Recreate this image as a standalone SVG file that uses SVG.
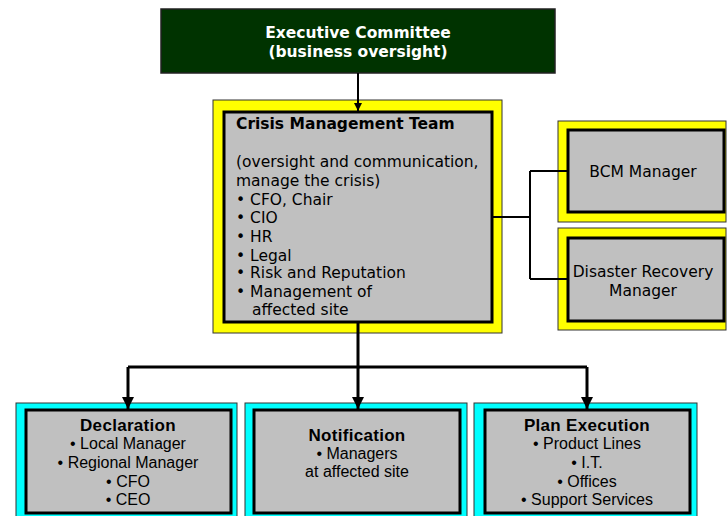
<svg xmlns="http://www.w3.org/2000/svg" width="728" height="516" viewBox="0 0 728 516">
<defs>
<style>
.outerY{fill:#ffff00;stroke:#333;stroke-width:1}
.outerC{fill:#00ffff;stroke:#333;stroke-width:1}
.inner{fill:#c0c0c0;stroke:#000;stroke-width:3}
.v{font-family:"DejaVu Sans",Verdana,sans-serif;font-size:15.5px;fill:#000}
.vb{font-family:"DejaVu Sans",Verdana,sans-serif;font-size:15.5px;font-weight:bold;fill:#000}
.n{font-family:"Liberation Sans",Arial,sans-serif;font-size:16px;fill:#000;text-anchor:middle}
.nb{font-family:"Liberation Sans",Arial,sans-serif;font-size:17px;font-weight:bold;fill:#000;text-anchor:middle;letter-spacing:0.3px}
.c{fill:none;stroke:#000}
</style>
<marker id="ah" viewBox="0 0 10 10" refX="10" refY="5" markerWidth="4" markerHeight="4" markerUnits="strokeWidth" orient="auto">
<path d="M0,0 L10,5 L0,10 z" fill="#000"/>
</marker>
<marker id="ah2" viewBox="0 0 10 10" refX="10" refY="5" markerWidth="5" markerHeight="4" orient="auto" markerUnits="strokeWidth">
<path d="M0,0 L10,5 L0,10 z" fill="#000"/>
</marker>
</defs>

<g id="executive-committee">
<rect x="161" y="9" width="394" height="64" fill="#003300" stroke="#222" stroke-width="1.5"/>
<text x="358" y="38" text-anchor="middle" class="vb" style="fill:#fff">Executive Committee</text>
<text x="358" y="57" text-anchor="middle" class="vb" style="fill:#fff">(business oversight)</text>
</g>

<g id="crisis-management-team">
<rect class="outerY" x="213" y="100" width="289" height="233"/>
<rect class="inner" x="224" y="112" width="268" height="210"/>
<text x="236" y="129" class="vb">Crisis Management Team</text>
<text x="236" y="167" class="v">(oversight and communication,</text>
<text x="236" y="186" class="v">manage the crisis)</text>
<text x="236" y="205" class="v">• CFO, Chair</text>
<text x="236" y="223" class="v">• CIO</text>
<text x="236" y="242" class="v">• HR</text>
<text x="236" y="261" class="v">• Legal</text>
<text x="236" y="278" class="v">• Risk and Reputation</text>
<text x="236" y="297" class="v">• Management of</text>
<text x="252" y="315" class="v">affected site</text>
</g>

<g id="bcm-manager">
<rect class="outerY" x="558" y="121" width="168" height="101"/>
<rect class="inner" x="568" y="130" width="156" height="82"/>
<text x="643" y="177" text-anchor="middle" class="v">BCM Manager</text>
</g>

<g id="disaster-recovery-manager">
<rect class="outerY" x="558" y="228" width="168" height="102"/>
<rect class="inner" x="568" y="238" width="156" height="83"/>
<text x="643" y="277" text-anchor="middle" class="v">Disaster Recovery</text>
<text x="643" y="296" text-anchor="middle" class="v">Manager</text>
</g>

<g id="declaration">
<rect class="outerC" x="16" y="403" width="221" height="120"/>
<rect class="inner" x="26" y="410" width="205" height="103"/>
<text x="128" y="431" class="nb">Declaration</text>
<text x="128" y="449" class="n">• Local Manager</text>
<text x="128" y="468" class="n">• Regional Manager</text>
<text x="128" y="487" class="n">• CFO</text>
<text x="128" y="505" class="n">• CEO</text>
</g>

<g id="notification">
<rect class="outerC" x="245" y="403" width="222" height="120"/>
<rect class="inner" x="254" y="410" width="206" height="103"/>
<text x="357" y="441" class="nb">Notification</text>
<text x="357" y="459" class="n">• Managers</text>
<text x="357" y="477" class="n">at affected site</text>
</g>

<g id="plan-execution">
<rect class="outerC" x="474" y="403" width="223" height="120"/>
<rect class="inner" x="485" y="410" width="205" height="103"/>
<text x="587" y="431" class="nb">Plan Execution</text>
<text x="587" y="449" class="n">• Product Lines</text>
<text x="587" y="468" class="n">• I.T.</text>
<text x="587" y="487" class="n">• Offices</text>
<text x="587" y="505" class="n">• Support Services</text>
</g>

<g id="connectors">
<path class="c" stroke-width="2" d="M358,73 V111" marker-end="url(#ah2)"/>
<path class="c" stroke-width="2" d="M492,217 H530 M530,171 V279 M530,171 H568 M530,279 H568"/>
<path class="c" stroke-width="3" d="M358,322 V367 H128"/>
<path class="c" stroke-width="3" d="M358,367 H587"/>
<path class="c" stroke-width="3" d="M128,367 V409" marker-end="url(#ah)"/>
<path class="c" stroke-width="3" d="M358,367 V409" marker-end="url(#ah)"/>
<path class="c" stroke-width="3" d="M587,367 V409" marker-end="url(#ah)"/>
</g>
</svg>
